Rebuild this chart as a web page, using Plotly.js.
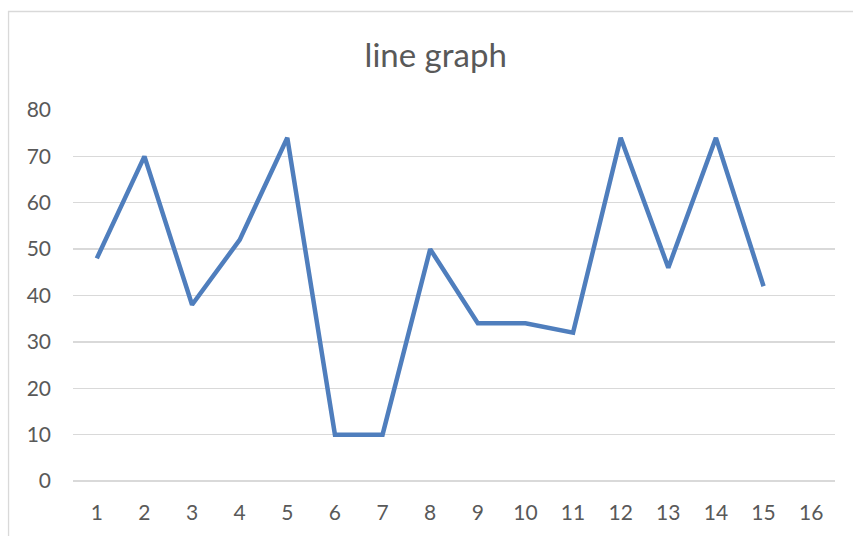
<!DOCTYPE html>
<html>
<head>
<meta charset="utf-8">
<script src="https://cdn.plot.ly/plotly-3.0.1.min.js"></script>
<style>
html,body{margin:0;padding:0;background:#fff;}
#chart{width:853px;height:536px;}
</style>
</head>
<body>
<div id="chart"></div>
<script>
const categories = ['1','2','3','4','5','6','7','8','9','10','11','12','13','14','15','16'];
const values = [48, 70, 38, 52, 74, 10, 10, 50, 34, 34, 32, 74, 46, 74, 42, null];
const yTicks = [0, 10, 20, 30, 40, 50, 60, 70, 80];
const chartTitle = 'line graph';

const trace = {
  x: categories,
  y: values,
  type: 'scatter',
  mode: 'lines',
  line: {color: '#4F7EBD', width: 4.5, shape: 'linear'},
  connectgaps: false,
  hoverinfo: 'x+y'
};

const FONT = 'Lato, "Open Sans", sans-serif';

const layout = {
  width: 853,
  height: 536,
  margin: {l: 73, r: 18, t: 110, b: 55},
  paper_bgcolor: '#ffffff',
  plot_bgcolor: '#ffffff',
  showlegend: false,
  font: {family: FONT, color: '#595959', size: 21},
  title: {
    text: chartTitle,
    font: {family: FONT, size: 33, color: '#595959'},
    x: 0.476, xref: 'paper', xanchor: 'center',
    y: 0.897, yref: 'container', yanchor: 'middle'
  },
  xaxis: {
    type: 'category',
    categoryorder: 'array',
    categoryarray: categories,
    range: [-0.5, 15.5],
    showgrid: false,
    zeroline: false,
    showline: false,
    ticks: '',
    ticklabelstandoff: 17,
    tickfont: {family: FONT, size: 21, color: '#595959'},
    fixedrange: true
  },
  yaxis: {
    range: [0, 80],
    tickvals: yTicks,
    showgrid: true,
    gridcolor: '#D9D9D9',
    gridwidth: 1.3,
    zeroline: true,
    zerolinecolor: '#D9D9D9',
    zerolinewidth: 1.3,
    showline: false,
    ticks: '',
    ticklabelstandoff: 21,
    tickfont: {family: FONT, size: 21, color: '#595959'},
    fixedrange: true
  },
  shapes: [{
    type: 'rect',
    xref: 'paper', yref: 'paper',
    x0: -0.0846, x1: 1.2,
    y0: -0.3, y1: 1.2655,
    line: {color: '#D9D9D9', width: 1.3},
    fillcolor: 'rgba(0,0,0,0)',
    layer: 'below'
  }]
};

Plotly.newPlot('chart', [trace], layout, {displayModeBar: false, staticPlot: true});
</script>
</body>
</html>
